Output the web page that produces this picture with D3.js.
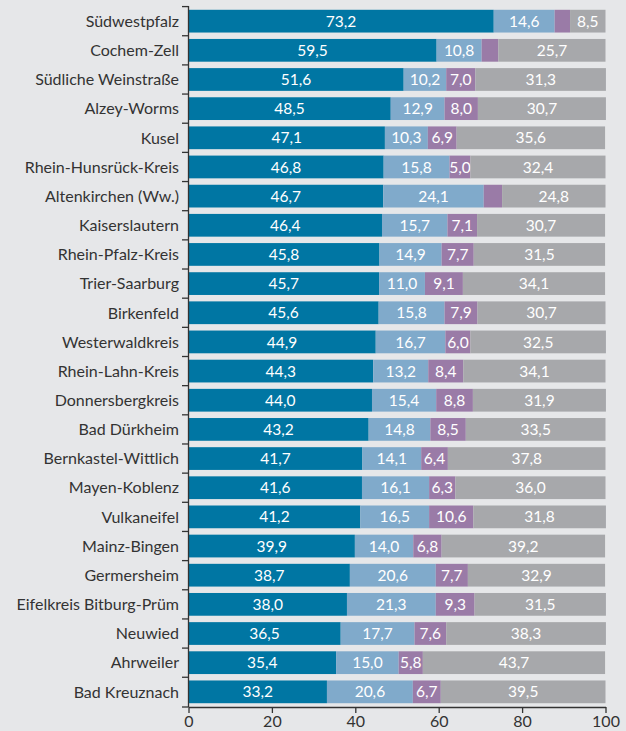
<!DOCTYPE html>
<html><head><meta charset="utf-8">
<script src="https://cdn.jsdelivr.net/npm/d3@7"></script>
<style>
html,body{margin:0;padding:0;background:#e6e7e9;}
svg{display:block;}
</style></head>
<body>
<script>
const categories = ["Südwestpfalz","Cochem-Zell","Südliche Weinstraße","Alzey-Worms","Kusel","Rhein-Hunsrück-Kreis","Altenkirchen (Ww.)","Kaiserslautern","Rhein-Pfalz-Kreis","Trier-Saarburg","Birkenfeld","Westerwaldkreis","Rhein-Lahn-Kreis","Donnersbergkreis","Bad Dürkheim","Bernkastel-Wittlich","Mayen-Koblenz","Vulkaneifel","Mainz-Bingen","Germersheim","Eifelkreis Bitburg-Prüm","Neuwied","Ahrweiler","Bad Kreuznach"];
const series1 = [73.2,59.5,51.6,48.5,47.1,46.8,46.7,46.4,45.8,45.7,45.6,44.9,44.3,44.0,43.2,41.7,41.6,41.2,39.9,38.7,38.0,36.5,35.4,33.2];
const series2 = [14.6,10.8,10.2,12.9,10.3,15.8,24.1,15.7,14.9,11.0,15.8,16.7,13.2,15.4,14.8,14.1,16.1,16.5,14.0,20.6,21.3,17.7,15.0,20.6];
const series3 = [3.7,4.0,7.0,8.0,6.9,5.0,4.4,7.1,7.7,9.1,7.9,6.0,8.4,8.8,8.5,6.4,6.3,10.6,6.8,7.7,9.3,7.6,5.8,6.7];
const series4 = [8.5,25.7,31.3,30.7,35.6,32.4,24.8,30.7,31.5,34.1,30.7,32.5,34.1,31.9,33.5,37.8,36.0,31.8,39.2,32.9,31.5,38.3,43.7,39.5];
const xTicks = [0,20,40,60,80,100];
const seriesKeys = ["s1","s2","s3","s4"];
const colors = ["#0076a3","#80aacb","#9a7ba7","#a7a8ab"];
const labelMin = 5; // segments narrower than this are left unlabeled

const W = 626, H = 731;
const svg = d3.select("body").append("svg").attr("width", W).attr("height", H);
svg.append("rect").attr("width", W).attr("height", H).attr("fill", "#e6e7e9");

const rows = categories.map((c,i)=>({cat:c, s1:series1[i], s2:series2[i], s3:series3[i], s4:series4[i]}));
const x = d3.scaleLinear().domain([0,100]).range([188.5,605.5]);
const y = d3.scaleBand().domain(categories).range([6,707]).paddingInner(0.22).paddingOuter(0.13);

const stacked = d3.stack().keys(seriesKeys)(rows);
const font = "Lato, sans-serif";

const g = svg.append("g");
stacked.forEach((layer, li) => {
  const lg = g.append("g");
  lg.selectAll("rect").data(layer).enter().append("rect")
    .attr("x", d => x(d[0]))
    .attr("y", d => y(d.data.cat))
    .attr("width", d => x(d[1]) - x(d[0]))
    .attr("height", y.bandwidth())
    .attr("fill", colors[li]);
  lg.selectAll("text").data(layer.filter(d => d.data[layer.key] >= labelMin)).enter().append("text")
    .attr("x", d => (x(d[0]) + x(d[1]))/2)
    .attr("y", d => y(d.data.cat) + y.bandwidth()/2)
    .attr("dy", "0.36em")
    .attr("text-anchor","middle")
    .attr("fill","#ffffff")
    .style("font-family", font)
    .style("font-size","15.5px")
    .text(d => d3.format(".1f")(d.data[layer.key]).replace(".", ","));
});

// y axis with ticks at band boundaries
const yAxisG = svg.append("g");
yAxisG.append("line").attr("x1",188.5).attr("x2",188.5).attr("y1",6).attr("y2",707).attr("stroke","#333").attr("stroke-width",1.3);
const bounds = categories.map(c => y(c) - y.step()*y.paddingInner()/2);
bounds.push(707);
yAxisG.selectAll("line.t").data(bounds).enter().append("line").attr("class","t")
  .attr("x1",182).attr("x2",188.5).attr("y1",d=>d).attr("y2",d=>d).attr("stroke","#333").attr("stroke-width",1.3);
yAxisG.selectAll("text").data(categories).enter().append("text")
  .attr("x", 179)
  .attr("y", d => y(d) + y.bandwidth()/2)
  .attr("dy","0.36em")
  .attr("text-anchor","end")
  .attr("fill","#333")
  .style("font-family", font)
  .style("font-size","16px")
  .text(d=>d);

// x axis
const xAxis = d3.axisBottom(x).tickValues(xTicks).tickSize(6).tickSizeOuter(0).tickFormat(d3.format("d"));
const xg = svg.append("g").attr("transform","translate(0,707)").call(xAxis);
xg.select(".domain").attr("stroke","#333").attr("stroke-width",1.3);
xg.selectAll(".tick line").attr("stroke","#333").attr("stroke-width",1.3);
xg.selectAll(".tick text").attr("fill","#333").attr("y",9).style("font-family",font).style("font-size","16px");
</script>
</body></html>
